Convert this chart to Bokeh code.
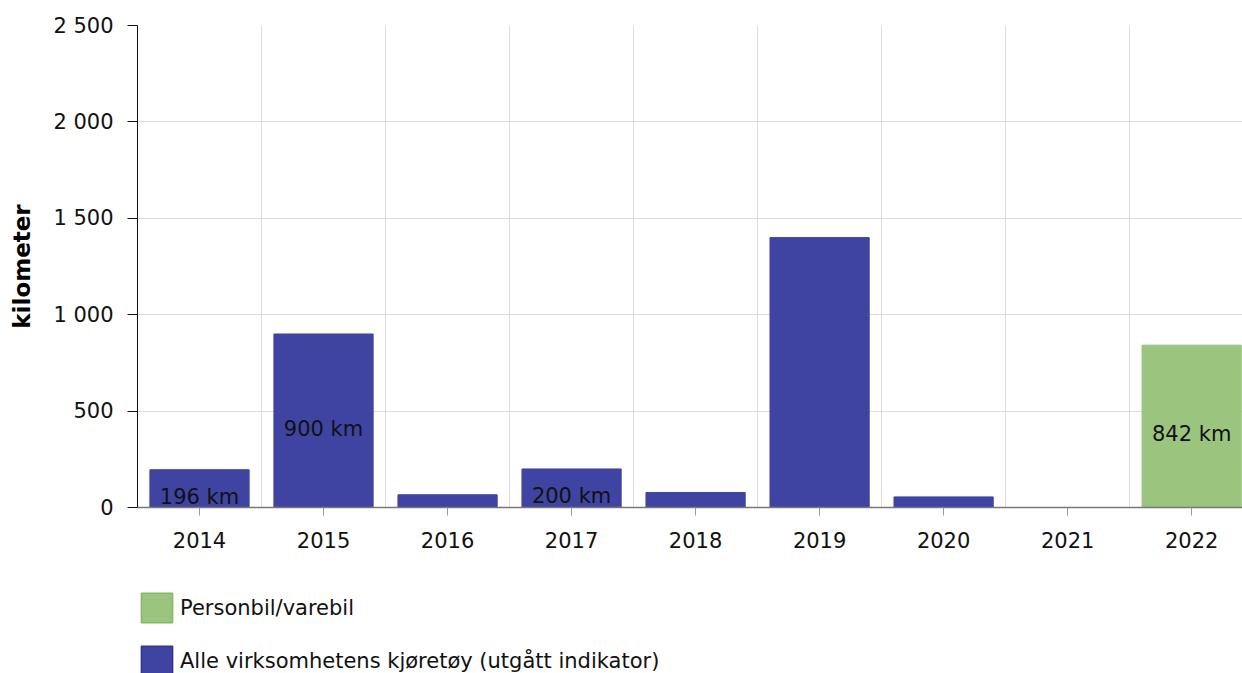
from bokeh.plotting import figure
from bokeh.layouts import column
from bokeh.models import (ColumnDataSource, Range1d, FixedTicker, Legend, LegendItem)
from bokeh.core.properties import value
from bokeh.embed import file_html
from bokeh.resources import INLINE

# ---- data ----
years = ["2014", "2015", "2016", "2017", "2018", "2019", "2020", "2021", "2022"]
all_vehicles = [196, 900, 66, 200, 78, 1400, 55, 0, 0]          # Alle virksomhetens kjøretøy
car_van = [0, 0, 0, 0, 0, 0, 0, 0, 842]                         # Personbil/varebil
bar_labels = ["196 km", "900 km", "", "200 km", "", "", "", "", "842 km"]
y_ticks = [0, 500, 1000, 1500, 2000, 2500]
y_tick_labels = ["0", "500", "1 000", "1 500", "2 000", "2 500"]
series_names = ["Personbil/varebil", "Alle virksomhetens kjøretøy (utgått indikator)"]
y_title = "kilometer"

FONT = "DejaVu Sans"
BLUE = "#3f44a3"
GREEN = "#9bc57f"
BLUE_EDGE = "#30358f"
GREEN_EDGE = "#84b767"

idx = list(range(len(years)))
label_vals = [a + c for a, c in zip(all_vehicles, car_van)]
src = ColumnDataSource(dict(
    x=idx, blue=all_vehicles, green=car_van,
    ly=[v / 2 for v in label_vals], txt=bar_labels,
))

# ---- chart ----
p = figure(width=1242, height=585, output_backend="svg", toolbar_location=None,
           x_range=Range1d(-0.5, 8.41), y_range=Range1d(0, 2500),
           min_border_left=137, min_border_right=0, min_border_top=25,
           min_border_bottom=78)
p.outline_line_color = None
p.background_fill_color = "white"

p.vbar(x="x", top="green", width=0.8, source=src, fill_color=GREEN,
       line_color=GREEN, line_width=1)
p.vbar(x="x", top="blue", width=0.8, source=src, fill_color=BLUE,
       line_color=BLUE, line_width=1)

p.text(x="x", y="ly", text="txt", source=src, text_align="center",
       text_baseline="middle", y_offset=8, text_font=value(FONT),
       text_font_size="21px", text_color="#111111")

xa = p.xaxis[0]
xa.ticker = FixedTicker(ticks=idx)
xa.major_label_overrides = {i: y for i, y in zip(idx, years)}
xa.minor_tick_line_color = None
xa.major_tick_in = 0
xa.major_tick_out = 8
xa.major_tick_line_color = "#999999"
xa.axis_line_color = "#777777"
xa.axis_line_width = 1.5
xa.major_label_standoff = 16
xa.major_label_text_font = FONT
xa.major_label_text_font_size = "21px"
xa.major_label_text_color = "#111111"

ya = p.yaxis[0]
ya.ticker = FixedTicker(ticks=y_ticks)
ya.major_label_overrides = {t: l for t, l in zip(y_ticks, y_tick_labels)}
ya.minor_tick_line_color = None
ya.major_tick_in = 0
ya.major_tick_out = 10
ya.major_tick_line_color = "#111111"
ya.axis_line_color = "#111111"
ya.major_label_standoff = 14
ya.major_label_text_font = FONT
ya.major_label_text_font_size = "21px"
ya.major_label_text_color = "#111111"
ya.axis_label = y_title
ya.axis_label_text_font = FONT
ya.axis_label_text_font_size = "23px"
ya.axis_label_text_font_style = "bold"
ya.axis_label_text_color = "#000000"
ya.axis_label_standoff = 15

p.xgrid.ticker = FixedTicker(ticks=[i + 0.5 for i in idx[:-1]])
p.xgrid.grid_line_color = "#dcdcdc"
p.ygrid.grid_line_color = "#dcdcdc"

# ---- legend strip (key glyphs carry no visible data) ----
nan = float("nan")
lg = figure(width=1242, height=88, output_backend="svg", toolbar_location=None,
            x_axis_type=None, y_axis_type=None,
            x_range=Range1d(0, 1), y_range=Range1d(0, 1),
            min_border_left=129, min_border_right=0, min_border_top=4,
            min_border_bottom=0)
lg.outline_line_color = None
key_green = lg.vbar(x=[nan], top=[nan], width=0.8, fill_color=GREEN,
                    line_color=GREEN_EDGE, line_width=1.5)
key_blue = lg.vbar(x=[nan], top=[nan], width=0.8, fill_color=BLUE,
                   line_color=BLUE_EDGE, line_width=1.5)
legend = Legend(items=[LegendItem(label=series_names[0], renderers=[key_green]),
                       LegendItem(label=series_names[1], renderers=[key_blue])],
                location="top_left", orientation="vertical",
                padding=0, margin=0, border_line_color=None,
                background_fill_alpha=0, glyph_width=39, glyph_height=37,
                spacing=16, label_standoff=4, label_text_font=FONT,
                label_text_font_size="21px", label_text_color="#111111")
lg.add_layout(legend, "center")

layout = column(p, lg, spacing=0)
open("out.html", "w").write(file_html(layout, INLINE))
